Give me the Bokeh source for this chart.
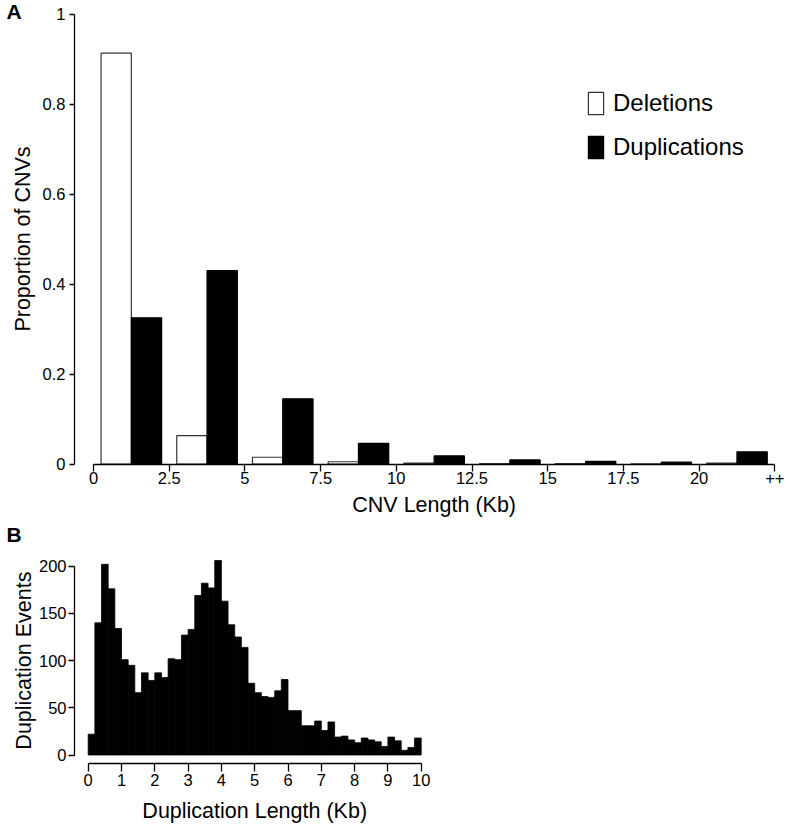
import numpy as np
from math import pi
from bokeh.plotting import figure
from bokeh.models import Range1d, FixedTicker, Label, Legend, LegendItem, LinearAxis
from bokeh.layouts import column
from bokeh.embed import file_html
from bokeh.resources import INLINE

# ---------------- Panel A data ----------------
bin_starts = [0, 2.5, 5, 7.5, 10, 12.5, 15, 17.5, 20]
deletions = [0.913, 0.063, 0.015, 0.005, 0.002, 0.001, 0.001, 0.0005, 0.002]
duplications = [0.325, 0.430, 0.145, 0.046, 0.018, 0.009, 0.006, 0.004, 0.027]
a_xticks = [0, 2.5, 5, 7.5, 10, 12.5, 15, 17.5, 20, 22.5]
a_xtick_labels = ["0", "2.5", "5", "7.5", "10", "12.5", "15", "17.5", "20", "++"]
a_yticks = [0, 0.2, 0.4, 0.6, 0.8, 1.0]
a_ytick_labels = ["0", "0.2", "0.4", "0.6", "0.8", "1"]
legend_labels = ["Deletions", "Duplications"]
a_xlabel = "CNV Length (Kb)"
a_ylabel = "Proportion of CNVs"

# ---------------- Panel B data ----------------
dup_bin_width = 0.2
dup_counts = [22, 140, 202, 176, 134, 101, 95, 66, 87, 79,
              87, 82, 102, 101, 127, 133, 169, 182, 177, 206,
              163, 138, 125, 114, 76, 66, 62, 61, 68, 80,
              47, 47, 31, 31, 36, 26, 35, 19, 20, 16,
              13, 18, 16, 14, 9, 19, 15, 5, 8, 18]
b_xticks = [0, 1, 2, 3, 4, 5, 6, 7, 8, 9, 10]
b_yticks = [0, 50, 100, 150, 200]
b_xlabel = "Duplication Length (Kb)"
b_ylabel = "Duplication Events"

FONT = "Liberation Sans"
TICK_FS = "16.5px"
LABEL_FS = "21.5px"
BASE_SHIFT = 9  # px: anchor offset so that glyph baseline lands where wanted


def make_axis(ticks, labels, bounds, loc, tick_out, standoff):
    ax = LinearAxis(fixed_location=loc, bounds=bounds,
                    ticker=FixedTicker(ticks=ticks))
    ax.major_label_overrides = {t: l for t, l in zip(ticks, labels)}
    ax.axis_line_color = "black"
    ax.axis_line_width = 1.3
    ax.major_tick_line_color = "black"
    ax.major_tick_line_width = 1.3
    ax.major_tick_in = 0
    ax.major_tick_out = tick_out
    ax.minor_tick_line_color = None
    ax.major_label_standoff = standoff
    ax.major_label_text_font = FONT
    ax.major_label_text_font_size = TICK_FS
    ax.major_label_text_color = "black"
    return ax


def text_label(p, x, y, text, size, angle=0.0, align="center", bold=False):
    p.add_layout(Label(x=x, y=y, text=text, angle=angle, text_align=align,
                       text_baseline="alphabetic", text_font=FONT,
                       text_font_size=size, text_color="black",
                       text_font_style="bold" if bold else "normal"))


# ================= Panel A =================
# pixel mapping: page_x = 93 + 30.28*x ; page_y = 463.5 - 450*y
AW, AH = 786, 520
AXS, AYS = 30.28, 450.0
ax_px = lambda px: (px - 93) / AXS
ay_px = lambda py: (463.5 - py) / AYS

pA = figure(width=AW, height=AH, x_range=Range1d(ax_px(0), ax_px(AW)),
            y_range=Range1d(ay_px(AH), ay_px(0)),
            x_axis_type=None, y_axis_type=None, min_border=0,
            output_backend="svg", toolbar_location=None)
pA.outline_line_color = None

r_del = pA.vbar(x=[s + 0.75 for s in bin_starts], top=deletions, width=1.0, bottom=0,
                fill_color="white", line_color="#333333", line_width=1.2)
r_dup = pA.vbar(x=[s + 1.75 for s in bin_starts], top=duplications, width=1.0, bottom=0,
                fill_color="black", line_color="black", line_width=1.2)

pA.add_layout(make_axis(a_xticks, a_xtick_labels, (0, 22.5), 0, 7, 1), "below")
pA.add_layout(make_axis(a_yticks, a_ytick_labels, (0, 1), ax_px(74), 5, 4), "left")

text_label(pA, 11.25, ay_px(513 - BASE_SHIFT), a_xlabel, LABEL_FS)
text_label(pA, ax_px(31.5 - BASE_SHIFT), 0.5, a_ylabel, LABEL_FS, angle=pi / 2)
text_label(pA, ax_px(6), ay_px(20 - BASE_SHIFT), "A", "21px", align="left", bold=True)

legend = Legend(items=[LegendItem(label=legend_labels[0], renderers=[r_del]),
                       LegendItem(label=legend_labels[1], renderers=[r_dup])],
                location=(586, 359), orientation="vertical",
                glyph_width=19, glyph_height=28, label_height=28,
                label_standoff=8, spacing=16, padding=0, margin=0,
                border_line_color=None, background_fill_alpha=0,
                label_text_font=FONT, label_text_font_size="24px",
                label_text_color="black")
pA.add_layout(legend)

# ================= Panel B =================
# pixel mapping (page coords): page_x = 87.7 + 33.3*x ; page_y = 754.5 - 0.944*y
BW, BH, BTOP = 450, 308, 520
BXS, BYS = 33.3, 0.944
bx_px = lambda px: (px - 87.7) / BXS
by_px = lambda py: (754.5 - py) / BYS

pB = figure(width=BW, height=BH, x_range=Range1d(bx_px(0), bx_px(BW)),
            y_range=Range1d(by_px(BTOP + BH), by_px(BTOP)),
            x_axis_type=None, y_axis_type=None, min_border=0,
            output_backend="svg", toolbar_location=None)
pB.outline_line_color = None

lefts = np.arange(len(dup_counts)) * dup_bin_width
pB.quad(left=lefts, right=lefts + dup_bin_width, top=dup_counts, bottom=0,
        fill_color="black", line_color="black", line_width=0.8)

pB.add_layout(make_axis(b_xticks, [str(t) for t in b_xticks], (0, 10),
                        by_px(763.3), 8, 2), "below")
pB.add_layout(make_axis(b_yticks, [str(t) for t in b_yticks], (0, 200),
                        bx_px(74), 6, 2), "left")

text_label(pB, 5, by_px(819 - BASE_SHIFT), b_xlabel, LABEL_FS)
text_label(pB, bx_px(32 - BASE_SHIFT), 100, b_ylabel, LABEL_FS, angle=pi / 2)
text_label(pB, bx_px(6), by_px(543 - BASE_SHIFT), "B", "21px", align="left", bold=True)

layout = column(pA, pB)
open("out.html", "w").write(file_html(layout, INLINE))
